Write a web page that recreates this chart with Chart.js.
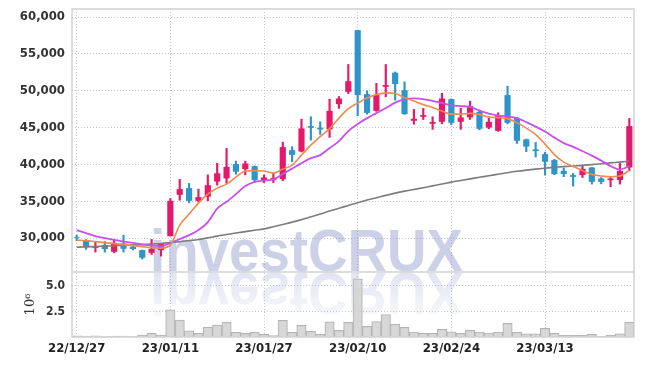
<!DOCTYPE html>
<html>
<head>
<meta charset="utf-8">
<script src="https://cdn.jsdelivr.net/npm/chart.js@4.4.0/dist/chart.umd.min.js"></script>
<style>
  html, body { margin: 0; padding: 0; background: #fff; }
  #chart { display: block; }
</style>
</head>
<body>
<canvas id="chart" width="645" height="366"></canvas>
<script>
"use strict";

// Data

let dates = [
  "22/12/27", "22/12/28", "22/12/29", "23/01/02", "23/01/03", "23/01/04", "23/01/05", "23/01/06", "23/01/09", "23/01/10",
  "23/01/11", "23/01/12", "23/01/13", "23/01/16", "23/01/17", "23/01/18", "23/01/19", "23/01/20", "23/01/25", "23/01/26",
  "23/01/27", "23/01/30", "23/01/31", "23/02/01", "23/02/02", "23/02/03", "23/02/06", "23/02/07", "23/02/08", "23/02/09",
  "23/02/10", "23/02/13", "23/02/14", "23/02/15", "23/02/16", "23/02/17", "23/02/20", "23/02/21", "23/02/22", "23/02/23",
  "23/02/24", "23/02/27", "23/02/28", "23/03/02", "23/03/03", "23/03/06", "23/03/07", "23/03/08", "23/03/09", "23/03/10",
  "23/03/13", "23/03/14", "23/03/15", "23/03/16", "23/03/17", "23/03/20", "23/03/21", "23/03/22", "23/03/23", "23/03/24",
];

let opens = [
  30150, 29730, 28680, 29050, 28140, 29280, 28820, 28370, 28000, 28370,
  30270, 35880, 36790, 35060, 35630, 37670, 38100, 40040, 39360, 39770,
  37870, 37870, 38000, 41940, 41750, 45200, 44980, 44760, 48180, 49860,
  58230, 49540, 47270, 50540, 52450, 50090, 45930, 46470, 45520, 45790,
  48860, 45790, 46380, 47140, 45000, 44560, 49410, 46330, 43400, 42040,
  41400, 40590, 39130, 38550, 38550, 39590, 38090, 37870, 37870, 39590,
];

let highs = [
  30400, 29800, 29540, 29540, 29820, 30400, 29140, 28400, 29820, 29280,
  35380, 37970, 37430, 36650, 38580, 40160, 42170, 40450, 40450, 39800,
  38580, 38860, 43030, 42400, 46150, 46470, 45790, 48860, 49220, 53570,
  58230, 50000, 51000, 53570, 52560, 51210, 47470, 47600, 46470, 49660,
  48900, 47630, 48590, 47370, 46330, 47010, 50630, 46400, 43450, 42990,
  41670, 40700, 39500, 38780, 39770, 39600, 38230, 38320, 40130, 46240,
];

let lows = [
  29650, 28470, 28100, 28100, 28000, 28100, 28400, 27150, 27780, 27560,
  30270, 35150, 34790, 34900, 35060, 37190, 37430, 38670, 38580, 37560,
  37530, 37530, 37780, 40370, 41700, 43300, 44070, 43670, 47600, 49610,
  46600, 46820, 47200, 49180, 48730, 46800, 45470, 46100, 44760, 45520,
  45400, 44760, 46110, 44700, 44840, 44500, 45500, 42850, 41740, 41000,
  38550, 38600, 38340, 37060, 38230, 37330, 37370, 36970, 37330, 39130,
];

let closes = [
  30050, 28740, 28910, 28510, 29360, 28550, 28510, 27330, 28550, 29280,
  35060, 36650, 35060, 35560, 37190, 38800, 39680, 39010, 40130, 37870,
  38230, 38140, 42350, 41300, 44890, 44980, 44760, 47270, 48950, 51300,
  49410, 47000, 49410, 50770, 50910, 46830, 46200, 46700, 45750, 48950,
  45650, 46380, 47910, 44840, 45790, 46560, 45650, 43210, 42420, 41810,
  40360, 38690, 38690, 38320, 39410, 37640, 37640, 38090, 39130, 45200,
];

// volume, in millions of shares
let volumes = [
  0.12, 0.10, 0.12, 0.03, 0.10, 0.10, 0.03, 0.20, 0.35, 0.20,
  2.65, 1.65, 0.60, 0.35, 0.95, 1.17, 1.46, 0.46, 0.35, 0.46,
  0.26, 0.13, 1.62, 0.46, 1.14, 0.55, 0.26, 1.49, 0.65, 1.43,
  5.70, 1.04, 1.52, 2.20, 1.26, 0.94, 0.49, 0.36, 0.36, 0.75,
  0.51, 0.36, 0.65, 0.49, 0.39, 0.49, 1.33, 0.46, 0.30, 0.30,
  0.84, 0.36, 0.16, 0.16, 0.16, 0.26, 0.06, 0.16, 0.30, 1.43,
];

// moving average lines as drawn (short / mid / long)
let maShort = [
  29730, 29660, 29520, 29390, 29250, 29120, 28980, 28850, 28710, 28640,
  29050, 31760, 33260, 34750, 35970, 36790, 37330, 38280, 39100, 39160,
  39100, 38820, 39370, 39910, 41270, 42620, 43780, 44860, 46290, 47580,
  48330, 49010, 49480, 49720, 49620, 49070, 48600, 48120, 47720, 47240,
  46830, 46830, 46930, 46760, 46430, 46360, 46220, 45680, 44930, 44050,
  42760, 41340, 40320, 39710, 39160, 38650, 38440, 38320, 38420, 39230,
];

let maMid = [
  31090, 30680, 30270, 30000, 29760, 29520, 29350, 29160, 28970, 28910,
  29320, 29860, 30410, 31090, 32170, 34000, 34930, 35970, 37060, 37640,
  37810, 37970, 38690, 39430, 40180, 40860, 41270, 42220, 43170, 44530,
  45480, 46290, 46970, 47650, 48390, 48840, 48960, 48870, 48640, 48330,
  48010, 47920, 47810, 47310, 46900, 46630, 46490, 46290, 45750, 45140,
  44460, 43640, 42900, 42390, 41810, 41200, 40520, 39770, 39300, 39770,
];

let maLong = [
  28760, 28820, 28860, 28910, 28970, 29010, 29060, 29120, 29200, 29270,
  29390, 29510, 29660, 29820, 30030, 30270, 30480, 30690, 30880, 31070,
  31250, 31550, 31860, 32170, 32510, 32890, 33260, 33670, 34050, 34430,
  34810, 35160, 35470, 35800, 36110, 36380, 36610, 36840, 37090, 37340,
  37600, 37820, 38040, 38250, 38470, 38670, 38880, 39070, 39230, 39370,
  39490, 39610, 39710, 39790, 39870, 39980, 40090, 40210, 40320, 40450,
];

let priceTicks = [30000, 35000, 40000, 45000, 50000, 55000, 60000];
let volumeTicks = [2.5, 5.0];

// Colours and fonts

let upColor = "#e4196a";
let downColor = "#2e95c8";
let gridColor = "#c3c7db";
let tickFamily = "'DejaVu Sans Condensed', 'Liberation Sans Narrow', sans-serif";
let tickFont = { family: tickFamily, size: 13, weight: "bold" };

function candleColor(ctx) {
  let i = ctx.dataIndex;
  return closes[i] >= opens[i] ? upColor : downColor;
}

let bodies = opens.map((o, i) => [o, closes[i]]);
let wicks = lows.map((l, i) => [l, highs[i]]);

// y axes: fixed width, no extra room above/below the labels
function fitLeftAxis(s) {
  s.width = 72;
  s.paddingTop = 0;
  s.paddingBottom = 0;
}

// Watermark text with its mirror image

let watermarkPlugin = {
  id: "watermark",
  beforeDatasetsDraw(chart) {
    let ctx = chart.ctx;
    let a = chart.chartArea;
    let mark = "investCRUX";
    ctx.save();
    ctx.beginPath();
    ctx.rect(a.left, a.top, a.width, a.height);
    ctx.clip();
    ctx.font = "bold 60px 'Liberation Sans', Arial, sans-serif";
    let w = ctx.measureText(mark).width;
    ctx.translate(150, 271);
    ctx.scale(313 / w, 1);
    ctx.fillStyle = "rgba(120, 135, 195, 0.38)";
    ctx.fillText(mark, 0, 0);
    ctx.translate(0, 2);
    ctx.scale(1, -1);
    let grad = ctx.createLinearGradient(0, 0, 0, -44);
    grad.addColorStop(0, "rgba(120, 135, 195, 0.22)");
    grad.addColorStop(1, "rgba(120, 135, 195, 0.06)");
    ctx.fillStyle = grad;
    ctx.fillText(mark, 0, 0);
    ctx.restore();
  },
};

// Frame round both panels

let framePlugin = {
  id: "frame",
  afterDraw(chart) {
    let ctx = chart.ctx;
    let a = chart.chartArea;
    let sep = chart.scales.y.bottom;
    ctx.save();
    ctx.strokeStyle = "#d2d2d2";
    ctx.lineWidth = 1.5;
    ctx.strokeRect(a.left, a.top, a.width, a.height);
    ctx.beginPath();
    ctx.moveTo(a.left, sep);
    ctx.lineTo(a.right, sep);
    ctx.stroke();
    ctx.restore();
  },
};

let ctx = document.getElementById("chart").getContext("2d");

let myChart = new Chart(ctx, {
  type: "bar",
  data: {
    labels: dates,
    datasets: [
      {
        type: "line",
        label: "MA short",
        data: maShort,
        yAxisID: "y",
        borderColor: "#f08a4e",
        borderWidth: 1.6,
        pointRadius: 0,
        cubicInterpolationMode: "monotone",
        order: 0,
      },
      {
        type: "line",
        label: "MA mid",
        data: maMid,
        yAxisID: "y",
        borderColor: "#c950ea",
        borderWidth: 1.8,
        pointRadius: 0,
        cubicInterpolationMode: "monotone",
        order: 0,
      },
      {
        type: "line",
        label: "MA long",
        data: maLong,
        yAxisID: "y",
        borderColor: "#7d7d7d",
        borderWidth: 1.6,
        pointRadius: 0,
        cubicInterpolationMode: "monotone",
        order: 1,
      },
      {
        label: "body",
        data: bodies,
        yAxisID: "y",
        grouped: false,
        backgroundColor: candleColor,
        borderWidth: 0,
        barPercentage: 0.66,
        categoryPercentage: 1,
        order: 2,
      },
      {
        label: "wick",
        data: wicks,
        yAxisID: "y",
        grouped: false,
        backgroundColor: candleColor,
        borderWidth: 0,
        barThickness: 1.5,
        order: 3,
      },
      {
        label: "volume",
        data: volumes,
        yAxisID: "yv",
        grouped: false,
        backgroundColor: "rgba(212, 212, 212, 0.9)",
        borderColor: "#b3b3b3",
        borderWidth: 1,
        barPercentage: 1,
        categoryPercentage: 1,
        order: 4,
      },
    ],
  },
  options: {
    responsive: false,
    animation: false,
    layout: { padding: { top: 9, right: 11, left: 0, bottom: 0 } },
    plugins: {
      legend: { display: false },
      tooltip: { enabled: false },
    },
    scales: {
      x: {
        offset: true,
        grid: {
          offset: false,
          drawTicks: false,
          color: (c) => (c.index % 10 === 0 ? gridColor : "rgba(0,0,0,0)"),
        },
        border: { display: false, dash: [1, 2] },
        ticks: {
          autoSkip: false,
          maxRotation: 0,
          padding: 4,
          color: "#222",
          font: tickFont,
          callback: (v, i) => (i % 10 === 0 ? dates[i] : ""),
        },
        afterFit: (s) => { s.height = 29; },
      },
      yv: {
        position: "left",
        stack: "panel",
        stackWeight: 65,
        min: 0,
        max: 6.36,
        afterBuildTicks: (s) => { s.ticks = volumeTicks.map((v) => ({ value: v })); },
        afterFit: fitLeftAxis,
        grid: { color: gridColor, drawTicks: false },
        border: { display: false, dash: [1, 2] },
        title: {
          display: true,
          text: "10\u2076",
          color: "#333",
          font: { family: "'DejaVu Serif', serif", size: 13 },
          padding: { top: 23, bottom: 0 },
        },
        ticks: {
          padding: 7,
          color: "#333",
          font: { family: tickFamily, size: 12, weight: "bold" },
          callback: (v) => v.toFixed(1),
        },
      },
      y: {
        position: "left",
        stack: "panel",
        stackWeight: 263,
        min: 25400,
        max: 61100,
        afterBuildTicks: (s) => { s.ticks = priceTicks.map((v) => ({ value: v })); },
        afterFit: fitLeftAxis,
        grid: { color: gridColor, drawTicks: false },
        border: { display: false, dash: [1, 2] },
        ticks: {
          padding: 7,
          color: "#333",
          font: tickFont,
          callback: (v) => v.toLocaleString("en-US"),
        },
      },
    },
  },
  plugins: [watermarkPlugin, framePlugin],
});
</script>
</body>
</html>
